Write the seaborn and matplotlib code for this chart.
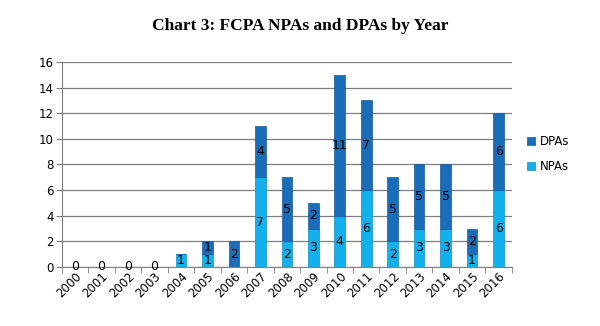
import matplotlib
matplotlib.use("Agg")
import matplotlib.pyplot as plt
import seaborn as sns
import pandas as pd
import numpy as np

years = [str(y) for y in range(2000, 2017)]
npas = [0, 0, 0, 0, 1, 1, 0, 7, 2, 3, 4, 6, 2, 3, 3, 1, 6]
dpas = [0, 0, 0, 0, 0, 1, 2, 4, 5, 2, 11, 7, 5, 5, 5, 2, 6]
npa_labels = ["0", "0", "0", "0", "1", "1", "", "7", "2", "3", "4", "6", "2", "3", "3", "1", "6"]
dpa_labels = ["", "", "", "", "", "1", "2", "4", "5", "2", "11", "7", "5", "5", "5", "2", "6"]

df = pd.DataFrame({"year": years, "NPAs": npas, "DPAs": dpas})

sns.set_style("white")
plt.rcParams["font.family"] = ["DejaVu Sans"]
plt.rcParams["text.color"] = "black"
plt.rcParams["xtick.labelcolor"] = "black"
plt.rcParams["ytick.labelcolor"] = "black"

fig = plt.figure(figsize=(6.0, 3.26), dpi=100)
ax = fig.add_axes([0.103, 0.181, 0.750, 0.629])

c_npa = "#12B0EC"
c_dpa = "#1A6DB8"

sns.barplot(data=df, x="year", y="NPAs", color=c_npa, width=0.4, ax=ax,
            label="NPAs", edgecolor="#0E8FC4", linewidth=0.5, saturation=1)
sns.barplot(data=df, x="year", y="DPAs", color=c_dpa, width=0.4, ax=ax,
            bottom=df["NPAs"], label="DPAs", edgecolor="#15589A", linewidth=0.5, saturation=1)

ax.bar_label(ax.containers[0], labels=npa_labels, label_type="center", fontsize=9, color="black")
ax.bar_label(ax.containers[1], labels=dpa_labels, label_type="center", fontsize=9, color="black")

ax.set_ylim(0, 16)
ax.set_yticks(range(0, 17, 2))
ax.set_xlim(-0.5, len(years) - 0.5)
ax.yaxis.grid(True, color="#7f7f7f", linewidth=0.9)
ax.set_axisbelow(True)
ax.set_xlabel("")
ax.set_ylabel("")
for s in ["top", "right"]:
    ax.spines[s].set_visible(False)
ax.spines["left"].set_color("#7f7f7f")
ax.spines["bottom"].set_color("#7f7f7f")
ax.tick_params(axis="y", labelsize=8.5, length=4, color="#7f7f7f", left=True, pad=2, labelcolor="black")
ax.tick_params(axis="x", labelsize=8.5, length=0, pad=2, labelcolor="black")
ax.set_xticks(np.arange(-0.5, len(years), 1), minor=True)
ax.tick_params(axis="x", which="minor", length=4, color="#7f7f7f", bottom=True)
plt.setp(ax.get_xticklabels(), rotation=45, ha="right", rotation_mode="anchor")

handles, labels = ax.get_legend_handles_labels()
order = [labels.index("DPAs"), labels.index("NPAs")]
leg = ax.legend([handles[i] for i in order], [labels[i] for i in order],
                loc="center left", bbox_to_anchor=(1.01, 0.55), frameon=False,
                fontsize=8.5, handlelength=0.7, handleheight=0.7, handletextpad=0.4,
                labelspacing=1.0)
for t in leg.get_texts():
    t.set_color("black")

fig.suptitle("Chart 3: FCPA NPAs and DPAs by Year", x=0.5, y=0.945,
             fontsize=12.5, fontweight="bold", family=["Liberation Serif"], color="black")

fig.savefig("out.png", dpi=100)
